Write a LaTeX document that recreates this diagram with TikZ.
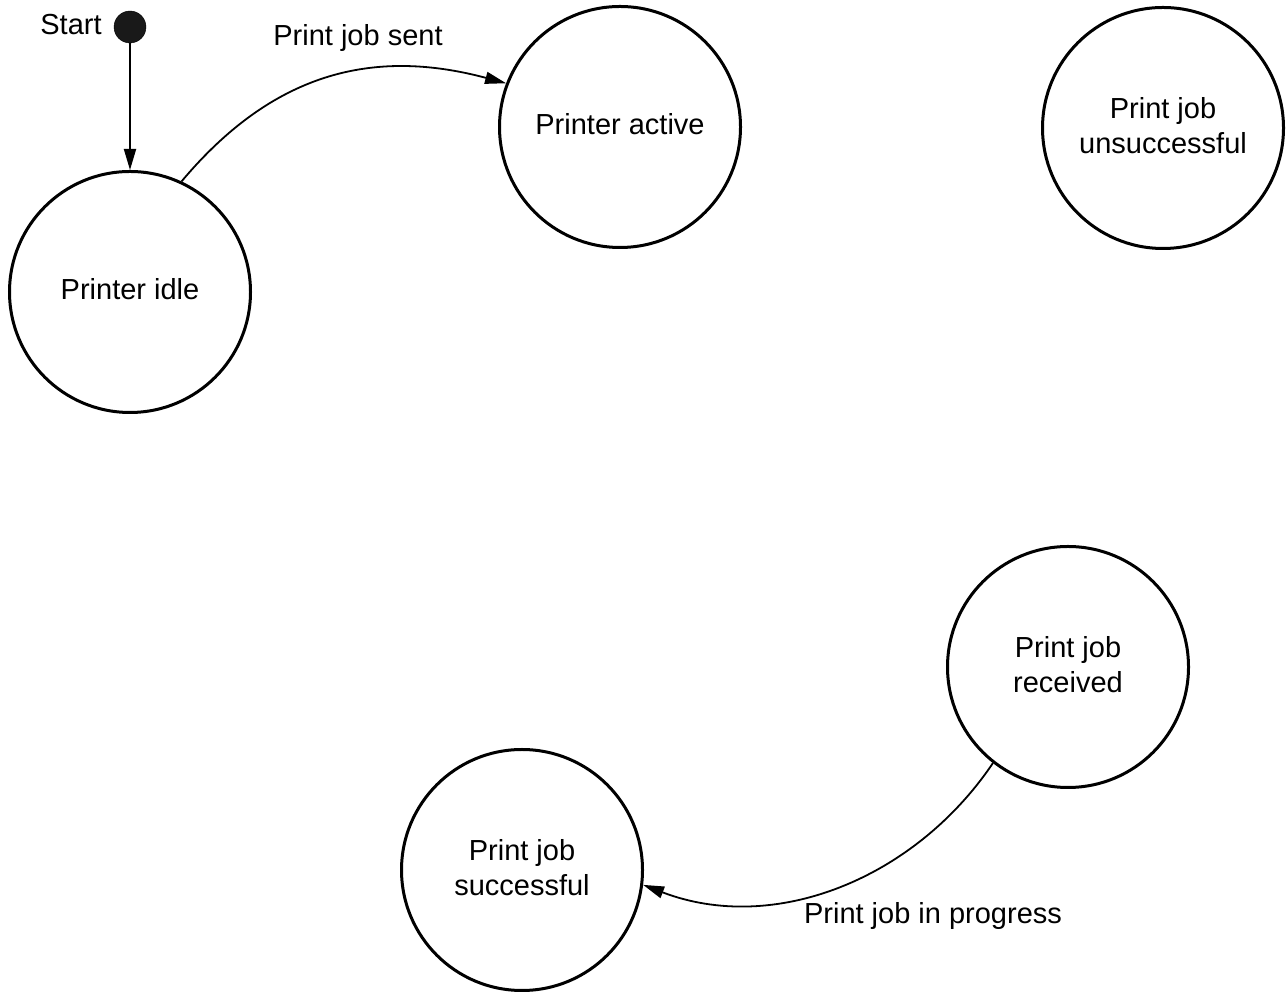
\documentclass[tikz,border=0pt]{standalone}
\usepackage{fontspec}
\setmainfont{Liberation Sans}
\usetikzlibrary{arrows.meta}
\begin{document}
\begin{tikzpicture}[x=1pt,y=1pt,
  state/.style={circle,draw=black,line width=3pt,minimum size=241pt,inner sep=0pt},
  lbl/.style={font=\fontsize{29}{35}\selectfont,inner sep=0pt,align=center},
  txt/.style={label={[lbl,yshift=2.5pt]center:#1}},
  conn/.style={line width=1.8pt,-{Triangle[length=21pt,width=12pt]}},
  startdot/.style={circle,fill=black!90,draw=black,minimum size=32pt,inner sep=0pt}]
\useasboundingbox (0,0) rectangle (1287,995);
\node[state,txt={Printer idle}] (idle) at (130,703) {};
\node[state,txt={Printer active}] (active) at (620,868) {};
\node[state,txt={Print job\\unsuccessful}] (unsucc) at (1163,867) {};
\node[state,txt={Print job\\received}] (received) at (1068,328) {};
\node[state,txt={Print job\\successful}] (success) at (522,125) {};
\node[startdot] (start) at (130,968) {};
\node[lbl] (starttxt) at (71,970) {Start};
\node[lbl] (sentlbl) at (358,957) {Print job sent};
\node[lbl] (proglbl) at (933,79) {Print job in progress};
\draw[conn] (start) -- (idle);
\draw[conn] (idle.65) .. controls +(50:140) and +(165:140) .. (active.159);
\draw[conn] (received.232) .. controls +(236:140) and +(-21:140) .. (success.-7);
\end{tikzpicture}
\end{document}
